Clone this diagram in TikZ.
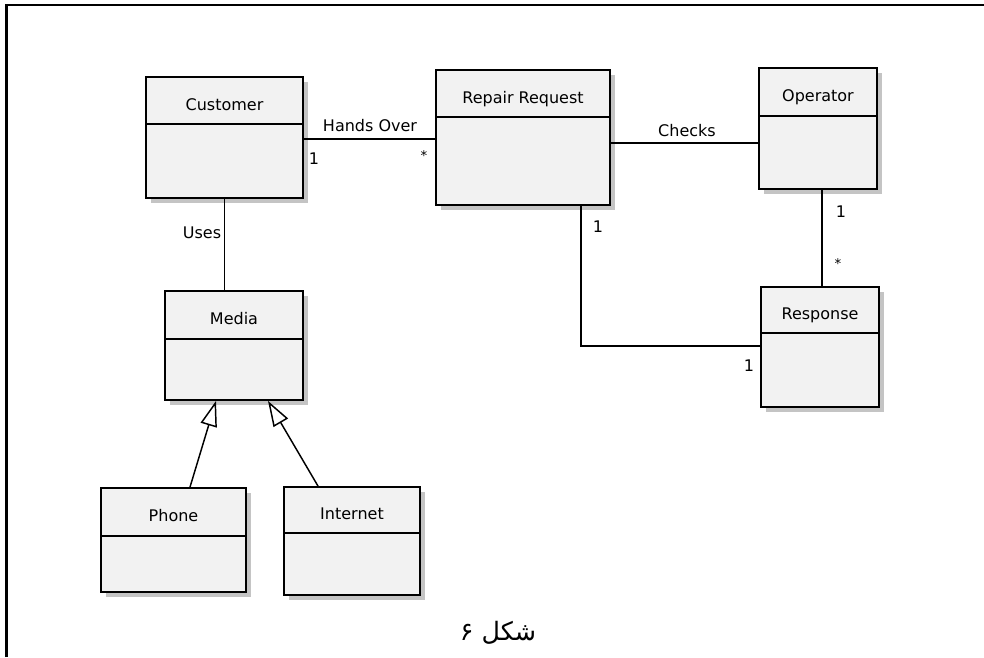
\documentclass[tikz,border=0pt]{standalone}
\usepackage{fontspec}
\setmainfont{DejaVu Sans}
\newfontfamily\arabicfont[Script=Arabic]{DejaVu Sans}
\TeXXeTstate=1
\usetikzlibrary{fit,arrows.meta}

\definecolor{boxfill}{HTML}{F2F2F2}
\definecolor{boxshade}{HTML}{C4C4C4}

\tikzset{
  classbox/.style={draw, fill=boxfill, line width=1.4pt, inner sep=0pt},
  classline/.style={line width=1.2pt},
  classtitle/.style={anchor=base, inner sep=0pt, font=\fontsize{12}{14}\selectfont},
  assoc/.style={line width=1.3pt},
  genline/.style={line width=1.1pt, -{Triangle[open, fill=white, length=19pt, width=12.5pt]}},
  assoclabel/.style={anchor=base, inner sep=0pt, font=\fontsize{12}{14}\selectfont},
  multstar/.style={inner sep=0pt, font=\fontsize{10}{12}\selectfont},
  frameline/.style={line width=1.6pt},
}

% UML class: name, x1, y1, x2, y2, divider y, title
\newcommand\umlclass[7]{%
  \fill[boxshade] (#2+5,#3+5) rectangle (#4+5,#5+5);
  \node[classbox, fit={(#2,#3) (#4,#5)}] (#1) {};
  \draw[classline] (#2,#6) -- (#4,#6);
  \node[classtitle] (#1-title) at ({(#2+#4)/2},{(#3+#6)/2+9.5}) {#7};
}

\begin{document}
\begin{tikzpicture}[x=0.75pt,y=-0.75pt]
\useasboundingbox (0,0) rectangle (984,657);

% outer frame
\draw[frameline] (6.5,657) -- (6.5,5) -- (984,5);

% classes
\umlclass{cust}{146}{77}{303}{198}{124}{Customer}
\umlclass{rr}{436}{70}{610}{205}{117}{Repair Request}
\umlclass{op}{759}{68}{877}{189}{116}{Operator}
\umlclass{resp}{761}{287}{879}{407}{333}{Response}
\umlclass{media}{165}{291}{303}{400}{339}{Media}
\umlclass{phone}{101}{488}{246}{592}{536}{Phone}
\umlclass{inet}{284}{487}{420}{595}{533}{Internet}

% helper coordinates for connector routing
\coordinate (hoY) at (0,139);
\coordinate (ckY) at (0,143);
\coordinate (rrBend) at (581,346);
\coordinate (orX) at (822,0);
\coordinate (phX) at (190,0);
\coordinate (phTip) at (216,0);
\coordinate (inX) at (318,0);
\coordinate (inTip) at (268,0);

% associations
\draw[assoc] (cust.east |- hoY) -- (rr.west |- hoY);
\draw[assoc] (rr.east |- ckY) -- (op.west |- ckY);
\draw[assoc] (cust.south) -- (cust.south |- media.north);
\draw[assoc] (rr.south -| rrBend) -- (rrBend) -- (rrBend -| resp.west);
\draw[assoc] (resp.north -| orX) -- (op.south -| orX);

% generalizations
\draw[genline] (phone.north -| phX) -- (media.south -| phTip);
\draw[genline] (inet.north -| inX) -- (media.south -| inTip);

% association names and multiplicities
\node[assoclabel] (lHands) at (370,131) {Hands Over};
\node[assoclabel] (lChecks) at (687,136) {Checks};
\node[assoclabel] (lUses) at (202,238) {Uses};
\node[assoclabel] (m1) at (314,164) {1};
\node[multstar] (m2) at (424,156) {*};
\node[assoclabel] (m3) at (598,232) {1};
\node[assoclabel] (m4) at (841,217) {1};
\node[multstar] (m5) at (838,264) {*};
\node[assoclabel] (m6) at (749,371) {1};

% caption
\node[inner sep=0pt, font=\arabicfont\fontsize{19}{22}\selectfont] (caption) at (498,633) {\beginR شکل ۶\endR};
\end{tikzpicture}
\end{document}
